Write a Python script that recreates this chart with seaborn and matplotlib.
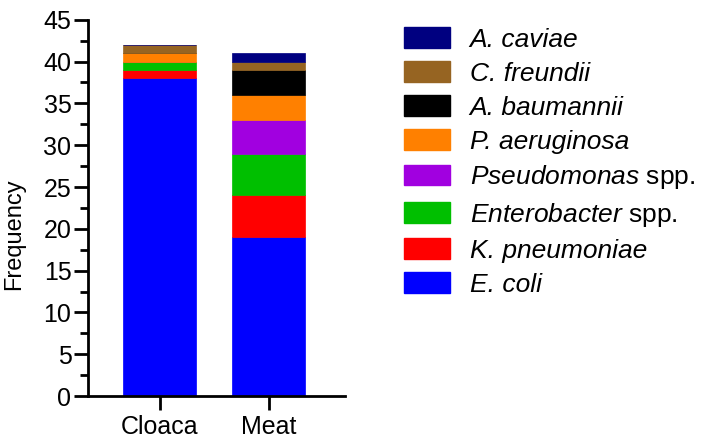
import numpy as np
import pandas as pd
import matplotlib
matplotlib.use("Agg")
import matplotlib.pyplot as plt
import seaborn as sns
from matplotlib.ticker import MultipleLocator
from matplotlib.patches import Patch

# Data: counts per species for each source
sources = ["Cloaca", "Meat"]
species = ["E. coli", "K. pneumoniae", "Enterobacter spp.", "Pseudomonas spp.",
           "P. aeruginosa", "A. baumannii", "C. freundii", "A. caviae"]
cloaca = [38, 1, 1, 0, 1, 0, 1, 0]
meat = [19, 5, 5, 4, 3, 3, 1, 1]
colors = ["#0000FF", "#FF0000", "#00BF00", "#A100E0", "#FF8000", "#000000", "#966422", "#000080"]

sns.set_style("ticks")
plt.rcParams['font.family'] = ['Liberation Sans', 'DejaVu Sans']
plt.rcParams['mathtext.fontset'] = 'custom'
plt.rcParams['mathtext.rm'] = 'Liberation Sans'
plt.rcParams['mathtext.it'] = 'Liberation Sans:italic'
plt.rcParams['axes.edgecolor'] = 'black'
plt.rcParams['xtick.color'] = 'black'
plt.rcParams['ytick.color'] = 'black'
plt.rcParams['text.color'] = 'black'
plt.rcParams['axes.labelcolor'] = 'black'

df = pd.DataFrame({"Cloaca": cloaca, "Meat": meat}, index=species)

fig = plt.figure(figsize=(7.28, 4.4), dpi=100)
ax = fig.add_axes([0.121, 0.1, 0.353, 0.855])

bottom = np.zeros(len(sources))
for sp, col in zip(species, colors):
    vals = df.loc[sp, sources].values.astype(float)
    sns.barplot(x=sources, y=vals, bottom=bottom, color=col, width=0.67,
                edgecolor=col, linewidth=0.5, ax=ax, saturation=1)
    bottom += vals

ax.set_xlim(-0.66, 1.70)
ax.set_ylim(0, 45)
ax.yaxis.set_major_locator(MultipleLocator(5))
ax.yaxis.set_minor_locator(MultipleLocator(2.5))
ax.set_ylabel("Frequency", fontsize=17)
ax.yaxis.set_label_coords(-0.245, 0.43)
ax.set_xlabel("")
ax.tick_params(axis='both', which='major', length=10, width=2, labelsize=18, direction='out')
ax.tick_params(axis='y', which='minor', length=6, width=2)
ax.tick_params(axis='x', pad=4)
ax.tick_params(axis='y', pad=2)
for s in ["left", "bottom"]:
    ax.spines[s].set_linewidth(2)
sns.despine(ax=ax)

# legend: italic species names, "spp." upright
handles = [Patch(facecolor=c, edgecolor=c) for c in colors][::-1]
leg = fig.legend(handles, species[::-1], loc="upper left", bbox_to_anchor=(0.54, 0.962),
                 frameon=False, fontsize=19, handlelength=1.74, handleheight=0.83,
                 labelspacing=0.36, handletextpad=0.76, borderaxespad=0)
for t in leg.get_texts():
    s = t.get_text()
    if s.endswith(" spp."):
        t.set_text(r"$\it{" + s[:-5] + "}$ spp.")
    else:
        t.set_fontstyle("italic")

fig.savefig("out.png", dpi=100)
